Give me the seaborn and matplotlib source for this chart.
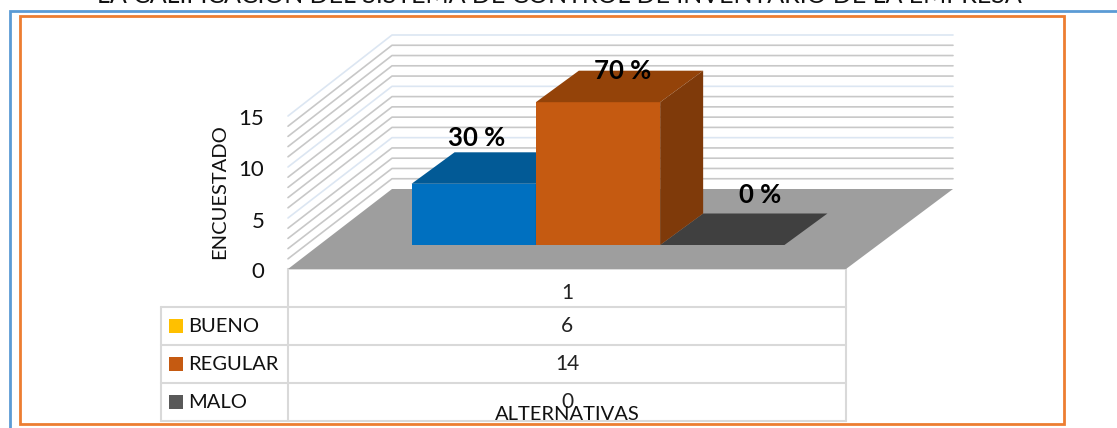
import matplotlib
matplotlib.use("Agg")
import matplotlib.pyplot as plt
from matplotlib.patches import Polygon, Rectangle
from matplotlib.transforms import ScaledTranslation
import seaborn as sns

title = "LA CALIFICACIÓN DEL SISTEMA DE CONTROL DE INVENTARIO DE LA EMPRESA"
categories = ["BUENO", "REGULAR", "MALO"]
counts = [6, 14, 0]
percent_labels = ["30 %", "70 %", "0 %"]
table_header = "1"
y_ticks = [0, 5, 10, 15]

front_colors = ["#0070c0", "#c55a11", "#404040"]
top_colors = ["#025a96", "#944309", "#404040"]
side_colors = ["#02497a", "#7f3a0a", "#404040"]
legend_colors = ["#ffc000", "#c55a11", "#595959"]

FONT = "Lato"
W, H = 1117, 428
GRID = "#c8c8c8"
GRID_MAJOR = "#dce6f2"
TABLE = "#d9d9d9"

# front plane of the fake 3d box, in pixels
LEFT, RIGHT, BOTTOM, TOP = 288, 846, 269, 116
UNIT_X = 124.3
UNIT_Y = (BOTTOM - TOP) / 15
XMIN = -1.494
XMAX = XMIN + (RIGHT - LEFT) / UNIT_X

FLOOR_DX = 104 / UNIT_X
FLOOR_DY = 80 / UNIT_Y
BACK_RIGHT = XMAX + FLOOR_DX + 3 / UNIT_X
BACK_SCALE = 154 / 153
BAR_BASE = 24 / UNIT_Y
BAR_DX = 43 / UNIT_X
BAR_DY = 31.5 / UNIT_Y

sns.set_theme(style="white")
plt.rcParams["font.family"] = [FONT, "DejaVu Sans"]

fig = plt.figure(figsize=(W / 100, H / 100), dpi=100)

# overlay in pixel coordinates for the frames and the data table
page = fig.add_axes([0, 0, 1, 1])
page.set_xlim(0, W)
page.set_ylim(H, 0)
page.axis("off")

page.plot([9.5, 9.5, W], [H, 11, 11], color="#5b9bd5", lw=2, solid_joinstyle="miter")
page.add_patch(Rectangle((20, 16), 1044, 408, fill=False, ec="#ed7d31", lw=2))
# the title is cropped by the top edge in the original too
page.text(559, -5, title, ha="center", va="center", fontsize=18, color="#111111")

# table grid
row_lines = [307, 345, 383, 421]
page.plot([LEFT, RIGHT], [BOTTOM, BOTTOM], color=TABLE, lw=1.3)
page.plot([LEFT, LEFT], [BOTTOM, row_lines[0]], color=TABLE, lw=1.5)
page.plot([RIGHT, RIGHT], [BOTTOM, row_lines[0]], color=TABLE, lw=1.5)
for y in row_lines:
    page.plot([161, RIGHT], [y, y], color=TABLE, lw=1.5)
for x in [161, LEFT, RIGHT]:
    page.plot([x, x], [row_lines[0], row_lines[-1]], color=TABLE, lw=1.5)

cell_x = (LEFT + RIGHT) / 2
page.text(cell_x, 293, table_header, ha="center", va="center", fontsize=15, color="#222222")
for i, (name, value) in enumerate(zip(categories, counts)):
    mid = row_lines[i] + 19
    page.add_patch(Rectangle((169, mid - 7), 14, 14, color=legend_colors[i], lw=0))
    page.text(188, mid, name, ha="left", va="center", fontsize=14.5, color="#111111")
    page.text(cell_x, mid, str(value), ha="center", va="center", fontsize=15, color="#222222")
page.text(567, 415, "ALTERNATIVAS", ha="center", va="center", fontsize=14.5, color="#111111")

ax = fig.add_axes([LEFT / W, 1 - BOTTOM / H, (RIGHT - LEFT) / W, (BOTTOM - TOP) / H])
ax.patch.set_visible(False)

sns.barplot(x=categories, y=counts, hue=categories, palette=front_colors, width=1.0,
            legend=False, saturation=1, ax=ax)
ax.set_xlim(XMIN, XMAX)
ax.set_ylim(0, 15)

# floor
ax.add_patch(Polygon([(XMIN, 0), (XMAX, 0), (BACK_RIGHT, FLOOR_DY), (XMIN + FLOOR_DX, FLOOR_DY)],
                     color="#9e9e9e", lw=0, clip_on=False, zorder=1))

# wall grid lines
for k in range(1, 16):
    color = GRID_MAJOR if k % 5 == 0 else GRID
    back_y = FLOOR_DY + k * BACK_SCALE
    ax.plot([XMIN, XMIN + FLOOR_DX, BACK_RIGHT], [k, back_y, back_y], color=color, lw=1.2,
            clip_on=False, zorder=0.5)

# bars stand on the floor, set back from the front edge, so extrude each one
for i, bar in enumerate(ax.patches[:]):
    if not isinstance(bar, Rectangle):
        continue
    order = {0: 4, 1: 5, 2: 3}[i]
    bar.set_y(BAR_BASE)
    bar.set_clip_on(False)
    bar.set_zorder(order)
    bar.set_linewidth(0)
    x0, x1 = bar.get_x(), bar.get_x() + bar.get_width()
    base, top = BAR_BASE, BAR_BASE + bar.get_height()
    ax.add_patch(Polygon([(x0, top), (x1, top), (x1 + BAR_DX, top + BAR_DY), (x0 + BAR_DX, top + BAR_DY)],
                         color=top_colors[i], lw=0, clip_on=False, zorder=order))
    ax.add_patch(Polygon([(x1, base), (x1 + BAR_DX, base + BAR_DY), (x1 + BAR_DX, top + BAR_DY), (x1, top)],
                         color=side_colors[i], lw=0, clip_on=False, zorder=order))

# percent labels, placed by hand around the bar tops like in the original
label_shift = [(3, 46), (25, 31), (38, 50)]
for i, text in enumerate(percent_labels):
    dx, dy = label_shift[i]
    ax.text(i + dx / UNIT_X, BAR_BASE + counts[i] + dy / UNIT_Y, text, ha="center", va="center",
            fontsize=18.5, fontweight="bold", color="black", zorder=10, clip_on=False)

sns.despine(ax=ax, left=True, bottom=True)
ax.set_xticks([])
ax.set_yticks(y_ticks)
ax.tick_params(axis="y", length=0, pad=17, labelsize=16, labelcolor="#111111")
# tick labels sit a little under their grid line in the original
tick_shift = ScaledTranslation(0, -1.5 / 100, fig.dpi_scale_trans)
for label in ax.get_yticklabels():
    label.set_transform(label.get_transform() + tick_shift)
ax.set_ylabel("ENCUESTADO", fontsize=14.5, color="#111111")
ax.yaxis.set_label_coords(-60 / (RIGHT - LEFT), 0.505)

fig.savefig("out.png", dpi=100)
